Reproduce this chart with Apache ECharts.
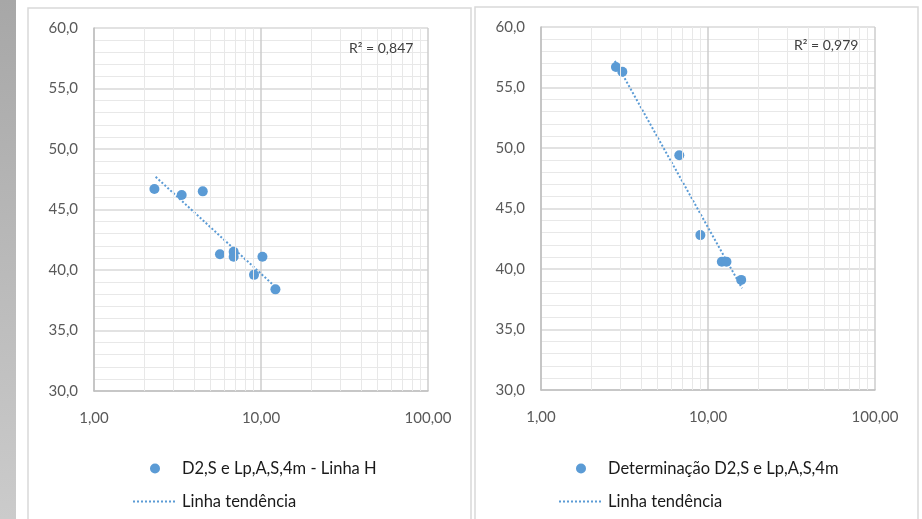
<!DOCTYPE html>
<html>
<head>
    <meta charset="utf-8">
    <title></title>
    <script src="https://cdn.jsdelivr.net/npm/echarts@6/dist/echarts.min.js"></script>
</head>
<body style="margin:0;background:#fff;">
    <div id="main" style="width: 922px;height:519px;"></div>
    <script type="text/javascript">
var myChart = echarts.init(document.getElementById('main'));

// gráfico da esquerda
var leftX = [2.30, 3.35, 4.48, 5.68, 6.86, 6.86, 10.2, 9.08, 12.2]
var leftY = [46.7, 46.2, 46.5, 41.3, 41.5, 41.1, 41.1, 39.6, 38.4]
var leftTrendX = [2.34, 12.2]
var leftTrendY = [47.7, 38.6]
// gráfico da direita
var rightX = [2.81, 3.07, 6.73, 9.0, 12.1, 12.9, 15.8]
var rightY = [56.7, 56.3, 49.4, 42.8, 40.6, 40.6, 39.1]
var rightTrendX = [2.77, 16.0]
var rightTrendY = [57.2, 38.4]

var leftName = 'D2,S e Lp,A,S,4m - Linha H'
var rightName = 'Determinação D2,S e Lp,A,S,4m'
var trendName = 'Linha tendência'
var r2Labels = ['R² = 0,847', 'R² = 0,979']
// linhas de grade secundárias (eixo log)
var xMinorTicks = [2, 3, 4, 5, 6, 7, 8, 9, 20, 30, 40, 50, 60, 70, 80, 90]

function pairs(xs, ys) {
  return xs.map(function (x, i) { return [x, ys[i]] })
}

var blue = '#5b9bd5'
var font = 'Lato'

function xAxisCfg(idx) {
  return {
    type: 'log',
    logBase: 10,
    gridIndex: idx,
    min: 1,
    max: 100,
    axisLine: { show: true, lineStyle: { color: '#bfbfbf', width: 1.5 } },
    axisTick: { show: false },
    axisLabel: {
      color: '#595959', fontSize: 15, fontFamily: font, margin: 20,
      formatter: function (v) { return v.toFixed(2).replace('.', ',') }
    },
    splitLine: { show: true, lineStyle: { color: '#cccccc', width: 1.5 } }
  }
}

function yAxisCfg(idx) {
  return {
    type: 'value',
    gridIndex: idx,
    min: 30,
    max: 60,
    interval: 5,
    axisLine: { show: true, lineStyle: { color: '#bfbfbf', width: 1.5 } },
    axisTick: { show: false },
    axisLabel: {
      color: '#595959', fontSize: 15, fontFamily: font, margin: 16,
      formatter: function (v) { return v.toFixed(1).replace('.', ',') }
    },
    splitLine: { show: true, lineStyle: { color: '#d9d9d9', width: 1.5 } },
    minorTick: { show: false, splitNumber: 5 },
    minorSplitLine: { show: true, lineStyle: { color: '#e8e8e8', width: 1 } }
  }
}

function minorGrid(idx) {
  return {
    type: 'scatter',
    xAxisIndex: idx,
    yAxisIndex: idx,
    data: [],
    silent: true,
    z: 1,
    markLine: {
      silent: true,
      symbol: 'none',
      label: { show: false },
      animation: false,
      lineStyle: { color: '#e8e8e8', width: 1, type: 'solid' },
      data: xMinorTicks.map(function (v) { return { xAxis: v } })
    }
  }
}

function legendCfg(left, names) {
  return {
    orient: 'vertical',
    left: left,
    top: 455,
    itemWidth: 44,
    itemHeight: 10,
    itemGap: 16,
    data: [names[0], { name: names[1], itemStyle: { opacity: 0 } }],
    textStyle: { color: '#1a1a1a', fontSize: 16.5, lineHeight: 16, fontFamily: font }
  }
}

option = {
  backgroundColor: '#fff',
  animation: false,
  grid: [
    { left: 94, right: 494, top: 28, bottom: 128 },
    { left: 541, right: 47, top: 27, bottom: 129 }
  ],
  xAxis: [xAxisCfg(0), xAxisCfg(1)],
  yAxis: [yAxisCfg(0), yAxisCfg(1)],
  legend: [
    legendCfg(127, [leftName, trendName]),
    legendCfg(553, [rightName, trendName])
  ],
  graphic: [
    {
      type: 'rect', shape: { x: 0, y: 0, width: 16, height: 519 }, z: -1,
      style: { fill: new echarts.graphic.LinearGradient(0, 0, 0, 1, [
        { offset: 0, color: '#a7a7a7' }, { offset: 1, color: '#cbcbcb' }]) }
    },
    {
      type: 'rect', shape: { x: 28, y: 8, width: 443, height: 530 }, z: -1,
      style: { fill: '#fff', stroke: '#d9d9d9', lineWidth: 1.5 }
    },
    {
      type: 'rect', shape: { x: 475, y: 7, width: 443, height: 530 }, z: -1,
      style: { fill: '#fff', stroke: '#d9d9d9', lineWidth: 1.5 }
    },
    {
      type: 'text', left: 349, top: 41, z: 10,
      style: { text: r2Labels[0], fill: '#404040', fontSize: 14, fontFamily: font }
    },
    {
      type: 'text', left: 794, top: 38, z: 10,
      style: { text: r2Labels[1], fill: '#404040', fontSize: 14, fontFamily: font }
    }
  ],
  series: [
    minorGrid(0),
    minorGrid(1),
    {
      name: trendName, type: 'line', xAxisIndex: 0, yAxisIndex: 0, z: 3,
      symbol: 'none', data: pairs(leftTrendX, leftTrendY),
      lineStyle: { color: blue, width: 2, type: 'dotted' }, itemStyle: { color: 'rgba(0,0,0,0)' }
    },
    {
      name: trendName, type: 'line', xAxisIndex: 1, yAxisIndex: 1, z: 3,
      symbol: 'none', data: pairs(rightTrendX, rightTrendY),
      lineStyle: { color: blue, width: 2, type: 'dotted' }, itemStyle: { color: 'rgba(0,0,0,0)' }
    },
    {
      name: leftName, type: 'scatter', xAxisIndex: 0, yAxisIndex: 0, z: 4,
      symbolSize: 10, data: pairs(leftX, leftY), itemStyle: { color: blue, opacity: 1 }
    },
    {
      name: rightName, type: 'scatter', xAxisIndex: 1, yAxisIndex: 1, z: 4,
      symbolSize: 10, data: pairs(rightX, rightY), itemStyle: { color: blue, opacity: 1 }
    }
  ]
}
myChart.setOption(option);
    </script>
</body>
</html>
